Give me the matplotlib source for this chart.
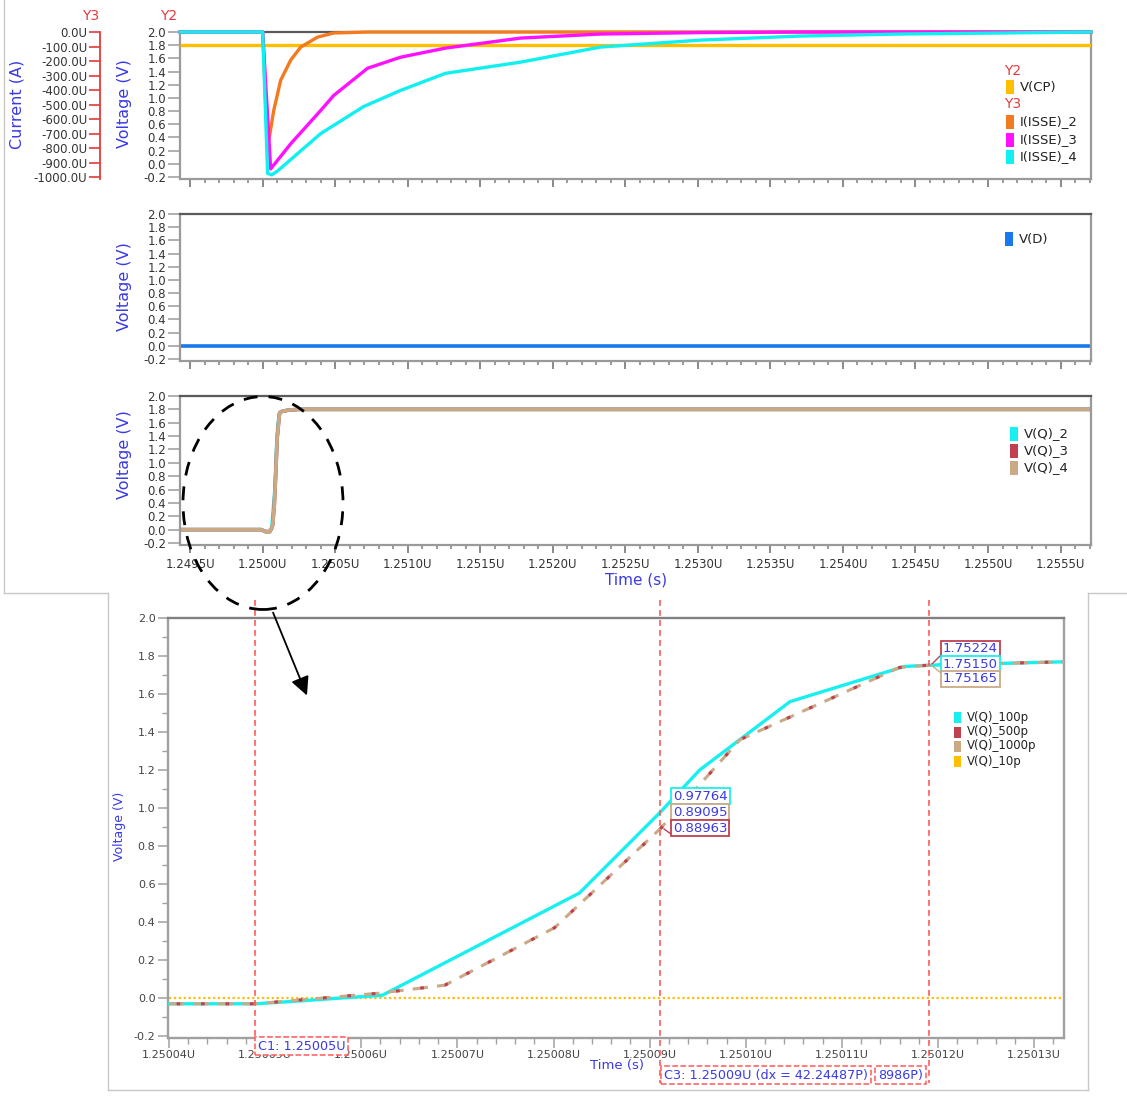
import matplotlib
matplotlib.use("Agg")
import matplotlib.pyplot as plt
from matplotlib.patches import Ellipse, Rectangle, FancyArrowPatch
from matplotlib.lines import Line2D
from matplotlib.ticker import MultipleLocator, FuncFormatter, FormatStrFormatter

plt.rcParams['font.family'] = ['DejaVu Sans']
plt.rcParams['axes.unicode_minus'] = False

# ---------------- data (time in microseconds "U") ----------------
t_range = [1.24943, 1.25571]

# panel 1 : V(CP) on Y2 (V), currents on Y3 (uA)
cp_t = [1.24943, 1.25571]
cp_v = [1.8, 1.8]

isse2_t = [1.24943, 1.25000, 1.250034, 1.250076, 1.250124, 1.250193, 1.250262,
           1.250379, 1.250489, 1.250723, 1.25571]
isse2_i = [0, 0, -799, -542, -333, -194, -104, -35, -7, 0, 0]

isse3_t = [1.24943, 1.25000, 1.250055, 1.250193, 1.250399, 1.250489, 1.250723,
           1.250950, 1.251260, 1.251777, 1.252328, 1.253017, 1.253705, 1.25571]
isse3_i = [0, 0, -944, -771, -542, -438, -250, -174, -111, -42, -14, -4, 0, 0]

isse4_t = [1.24943, 1.25000, 1.250034, 1.250062, 1.250103, 1.250399, 1.250696,
           1.250950, 1.251260, 1.251777, 1.252328, 1.253017, 1.253705, 1.254394,
           1.255083, 1.25571]
isse4_i = [0, 0, -975, -985, -958, -701, -514, -403, -285, -208, -104, -56, -28,
           -14, -7, 0]

# panel 2 : V(D)
vd_t = [1.24943, 1.25571]
vd_v = [0.0, 0.0]

# panel 3 : V(Q)_2/3/4
vq2_t = [1.24943, 1.24999, 1.25002, 1.250049, 1.2500536, 1.2500578, 1.2500622,
         1.2500827, 1.2500911, 1.2500952, 1.2501046, 1.2501165, 1.2501191,
         1.2501335, 1.25018, 1.25025, 1.25571]
vq2_v = [0, 0, -0.03, -0.03, -0.015, 0.0, 0.015, 0.553, 0.978, 1.20, 1.56, 1.745,
         1.7515, 1.77, 1.79, 1.80, 1.80]
vq34_t = [1.24943, 1.24999, 1.25002, 1.250049, 1.2500536, 1.2500619, 1.2500687,
          1.2500801, 1.2500911, 1.2500994, 1.2501160, 1.2501191, 1.2501335,
          1.25018, 1.25025, 1.25571]
vq34_v = [0, 0, -0.03, -0.03, -0.01, 0.026, 0.068, 0.37, 0.89, 1.36, 1.74, 1.752,
          1.77, 1.79, 1.80, 1.80]

# zoomed inset
z_range = [1.2500399, 1.2501331]
q100_t = [1.25004, 1.250049, 1.2500536, 1.2500578, 1.2500622, 1.2500827, 1.2500911,
          1.2500952, 1.2501046, 1.2501165, 1.2501191, 1.2501335]
q100_v = [-0.03, -0.03, -0.015, 0.0, 0.015, 0.553, 0.97764, 1.20, 1.56, 1.745,
          1.7515, 1.77]
q500_t = [1.25004, 1.250049, 1.2500536, 1.2500619, 1.2500687, 1.2500801, 1.2500911,
          1.2500994, 1.2501160, 1.2501191, 1.2501335]
q500_v = [-0.03, -0.03, -0.01, 0.026, 0.068, 0.37, 0.88963, 1.36, 1.74, 1.75224, 1.77]
q1000_v = [-0.03, -0.03, -0.01, 0.026, 0.068, 0.37, 0.89095, 1.36, 1.74, 1.75165, 1.77]
q10_t = [1.25004, 1.2501335]
q10_v = [0.0, 0.0]

cursor_t = [1.2500489, 1.2500911, 1.2501191]
c2_vals = ["0.97764", "0.89095", "0.88963"]
c3_vals = ["1.75224", "1.75150", "1.75165"]

# ---------------- colours ----------------
C_CP = '#ffbf00'
C_I2 = '#f47a1f'
C_I3 = '#ff10ff'
C_I4 = '#10f0f0'
C_VD = '#1a78ee'
C_Q2 = '#18f0f0'
C_Q3 = '#c0404f'
C_Q4 = '#cba987'
BLUE = '#3a3ae6'
RED = '#e33b3b'
GRID = '#9a9a9a'

W, H = 1127, 1099


def rect(l, t, r, b):
    return [l / W, 1 - b / H, (r - l) / W, (b - t) / H]


def fx(x):
    return x / W


def fy(y):
    return 1 - y / H


fig = plt.figure(figsize=(W / 100, H / 100), dpi=100)

# faint frames of the two screenshots
frame_c = '#c8c8c8'
for xs, ys in [([4, 4], [0, 593]), ([4, 108], [593, 593]), ([1088, 1127], [593, 593]),
               ([108, 108], [593, 1090]), ([108, 1088], [1090, 1090]),
               ([1088, 1088], [593, 1090])]:
    fig.add_artist(Line2D([fx(x) for x in xs], [fy(y) for y in ys], color=frame_c, lw=1.0))


def style_top(ax, labels=False):
    for s in ['left', 'bottom', 'right']:
        ax.spines[s].set_color(GRID)
        ax.spines[s].set_linewidth(1.6)
    ax.spines['top'].set_color('#5a5a5a')
    ax.spines['top'].set_linewidth(1.6)
    ax.set_xlim(*t_range)
    ax.set_ylim(-0.23, 2.0)
    ax.yaxis.set_major_locator(MultipleLocator(0.2))
    ax.yaxis.set_major_formatter(FormatStrFormatter('%.1f'))
    ax.xaxis.set_major_locator(MultipleLocator(0.0005))
    ax.xaxis.set_minor_locator(MultipleLocator(0.0001))
    ax.xaxis.set_major_formatter(FuncFormatter(lambda v, p: f"{v:.4f}U"))
    ax.tick_params(axis='y', direction='out', length=9, width=1.1, color=GRID,
                   labelsize=8.5, labelcolor='#333333', pad=1)
    ax.tick_params(axis='x', which='major', direction='out', length=6, width=1.3,
                   color='#808080', labelsize=8.5, labelcolor='#333333', pad=3)
    ax.tick_params(axis='x', which='minor', direction='out', length=3, width=1.1,
                   color='#808080')
    ax.tick_params(axis='x', labelbottom=labels)


# ---- panel 1
ax1 = fig.add_axes(rect(180, 32, 1091, 179))
style_top(ax1)
ax1.plot(cp_t, cp_v, color=C_CP, lw=2.4, solid_capstyle='butt', zorder=3)

ay3 = ax1.twinx()
for s in ['right', 'top', 'bottom']:
    ay3.spines[s].set_visible(False)
ay3.spines['left'].set_visible(True)
ay3.spines['left'].set_position(('axes', -80 / 911))
ay3.spines['left'].set_color(RED)
ay3.spines['left'].set_linewidth(1.3)
ay3.yaxis.set_ticks_position('left')
ay3.yaxis.set_label_position('left')
ay3.set_ylim(-1000 * 2.23 / 2.2, 0)
ay3.yaxis.set_major_locator(MultipleLocator(100))
ay3.yaxis.set_major_formatter(FuncFormatter(lambda v, p: f"{(v if abs(v) > 1e-9 else 0.0):.1f}U"))
ay3.tick_params(axis='y', direction='out', length=8, width=1.2, color=RED,
                labelsize=8.5, labelcolor='#333333', pad=1)
ay3.plot(isse2_t, isse2_i, color=C_I2, lw=2.4, clip_on=False, solid_joinstyle='round')
ay3.plot(isse3_t, isse3_i, color=C_I3, lw=2.4, clip_on=False, solid_joinstyle='round')
ay3.plot(isse4_t, isse4_i, color=C_I4, lw=2.4, clip_on=False, solid_joinstyle='round')

# ---- panel 2
ax2 = fig.add_axes(rect(180, 214, 1091, 361))
style_top(ax2)
ax2.plot(vd_t, vd_v, color=C_VD, lw=2.6)

# ---- panel 3
ax3 = fig.add_axes(rect(180, 396, 1091, 545))
style_top(ax3, labels=True)
ax3.plot(vq2_t, vq2_v, color=C_Q2, lw=2.6, solid_joinstyle='round')
ax3.plot(vq34_t, vq34_v, color=C_Q3, lw=2.6, solid_joinstyle='round')
ax3.plot(vq34_t, vq34_v, color=C_Q4, lw=2.6, solid_joinstyle='round')

# axis titles for upper screenshot
fig.text(fx(17), fy(104), "Current (A)", rotation=90, color=BLUE, fontsize=11.5,
         ha='center', va='center')
for yc in [104, 287, 455]:
    fig.text(fx(125), fy(yc), "Voltage (V)", rotation=90, color=BLUE, fontsize=11.5,
             ha='center', va='center')
fig.text(fx(91), fy(16), "Y3", color=RED, fontsize=10, ha='center', va='center')
fig.text(fx(169), fy(16), "Y2", color=RED, fontsize=10, ha='center', va='center')
fig.text(fx(636), fy(580), "Time (s)", color=BLUE, fontsize=11, ha='center', va='center')


def legend_item(x, y, color, label, w=8, h=14, fs=9.5):
    fig.add_artist(Rectangle((fx(x - w / 2), fy(y + h / 2)), w / W, h / H,
                             transform=fig.transFigure, color=color, lw=0))
    fig.text(fx(x + w / 2 + 6), fy(y), label, fontsize=fs, color='#222222',
             ha='left', va='center')


fig.text(fx(1004), fy(71), "Y2", color=RED, fontsize=10, ha='left', va='center')
legend_item(1010, 87, C_CP, "V(CP)")
fig.text(fx(1004), fy(104), "Y3", color=RED, fontsize=10, ha='left', va='center')
legend_item(1010, 122, C_I2, "I(ISSE)_2")
legend_item(1010, 140, C_I3, "I(ISSE)_3")
legend_item(1010, 157, C_I4, "I(ISSE)_4")
legend_item(1009, 239, C_VD, "V(D)")
legend_item(1014, 434, C_Q2, "V(Q)_2")
legend_item(1014, 451, C_Q3, "V(Q)_3")
legend_item(1014, 468, C_Q4, "V(Q)_4")

# ---------------- zoomed inset ----------------
axi = fig.add_axes(rect(168, 618, 1064, 1038))
for s in ['left', 'bottom', 'right']:
    axi.spines[s].set_color('#a0a0a0')
    axi.spines[s].set_linewidth(1.7)
axi.spines['top'].set_color('#808080')
axi.spines['top'].set_linewidth(1.7)
axi.set_xlim(*z_range)
axi.set_ylim(-0.21, 2.0)
axi.yaxis.set_major_locator(MultipleLocator(0.2))
axi.yaxis.set_minor_locator(MultipleLocator(0.1))
axi.yaxis.set_major_formatter(FormatStrFormatter('%.1f'))
axi.xaxis.set_major_locator(MultipleLocator(0.00001))
axi.xaxis.set_minor_locator(MultipleLocator(0.000002))
axi.xaxis.set_major_formatter(FuncFormatter(lambda v, p: f"{v:.5f}U"))
axi.tick_params(axis='both', which='major', direction='out', length=7, width=1.1,
                color='#a0a0a0', labelsize=8, labelcolor='#444444', pad=2)
axi.tick_params(axis='both', which='minor', direction='out', length=4, width=1.0,
                color='#a0a0a0')

axi.plot(q10_t, q10_v, color=C_CP, lw=1.6, ls=(0, (1, 1.2)), zorder=2)
axi.plot(q100_t, q100_v, color=C_Q2, lw=2.4, zorder=3, solid_joinstyle='round')
axi.plot(q500_t, q1000_v, color=C_Q4, lw=2.2, ls=(0, (5, 3)), zorder=4)
axi.plot(q500_t, q500_v, color=C_Q3, lw=2.2, ls=(5.5, (1.2, 6.8)), zorder=5)

fig.text(fx(120), fy(826), "Voltage (V)", rotation=90, color=BLUE, fontsize=9,
         ha='center', va='center')
fig.text(fx(617), fy(1066), "Time (s)", color=BLUE, fontsize=9.5, ha='center',
         va='center')

# cursors
y_per_px = 2.21 / 420.0
for ct, ybot in zip(cursor_t, [1041, 1083, 1083]):
    axi.plot([ct, ct], [2.0 + (618 - 600) * y_per_px, 2.0 - (ybot - 618) * y_per_px],
             color='#ff5a5a', lw=1.2, ls=(0, (3.5, 2.5)), clip_on=False, zorder=6)

box_kw = dict(boxstyle='square,pad=0.2', fc='white', ec='#ff5a5a', lw=1.1, ls='--')
fig.text(fx(258), fy(1046), "C1: 1.25005U", color=BLUE, fontsize=9.2, ha='left',
         va='center', bbox=box_kw)
fig.text(fx(664), fy(1075), "C3: 1.25009U (dx = 42.24487P)", color=BLUE, fontsize=9.2,
         ha='left', va='center', bbox=dict(box_kw, boxstyle='square,pad=0.22'))
fig.text(fx(878), fy(1075), "8986P)", color=BLUE, fontsize=9.2, ha='left',
         va='center', bbox=dict(box_kw, boxstyle='square,pad=0.22'))

# value readouts
def readout(x, y, txt, ec):
    fig.text(fx(x), fy(y), txt, color=BLUE, fontsize=9.5, ha='left', va='center',
             bbox=dict(boxstyle='square,pad=0.15', fc='white', ec=ec, lw=1.3), zorder=10)

for txt, ec, yy in zip(c2_vals, [C_Q2, C_Q4, C_Q3], [796, 812, 828]):
    readout(673, yy, txt, ec)
fig.add_artist(Line2D([fx(671), fx(664)], [fy(834), fy(829)], color=C_Q3, lw=1.0, zorder=9))
for txt, ec, yy in zip(c3_vals, [C_Q3, C_Q2, C_Q4], [649, 664, 679]):
    readout(943, yy, txt, ec)
for ec, yy in [(C_Q3, 655), (C_Q2, 664), (C_Q4, 673)]:
    fig.add_artist(Line2D([fx(941), fx(931)], [fy(yy), fy(665)], color=ec, lw=1.0, zorder=9))

# inset legend
legend_item(957, 717, C_Q2, "V(Q)_100p", w=7, h=11, fs=8.5)
legend_item(957, 732, C_Q3, "V(Q)_500p", w=7, h=11, fs=8.5)
legend_item(957, 746, C_Q4, "V(Q)_1000p", w=7, h=11, fs=8.5)
legend_item(957, 761, C_CP, "V(Q)_10p", w=7, h=11, fs=8.5)

# dashed ellipse + arrow
fig.add_artist(Ellipse((fx(263), fy(503)), 160 / W, 213 / H, transform=fig.transFigure,
                       fill=False, ec='black', lw=2.0, ls=(0, (5, 4)), zorder=20))
fig.add_artist(FancyArrowPatch((fx(272), fy(610)), (fx(308), fy(698)),
                               transform=fig.transFigure, arrowstyle='-|>',
                               mutation_scale=28, lw=1.3, color='black', zorder=20))

fig.savefig("out.png", dpi=100)
